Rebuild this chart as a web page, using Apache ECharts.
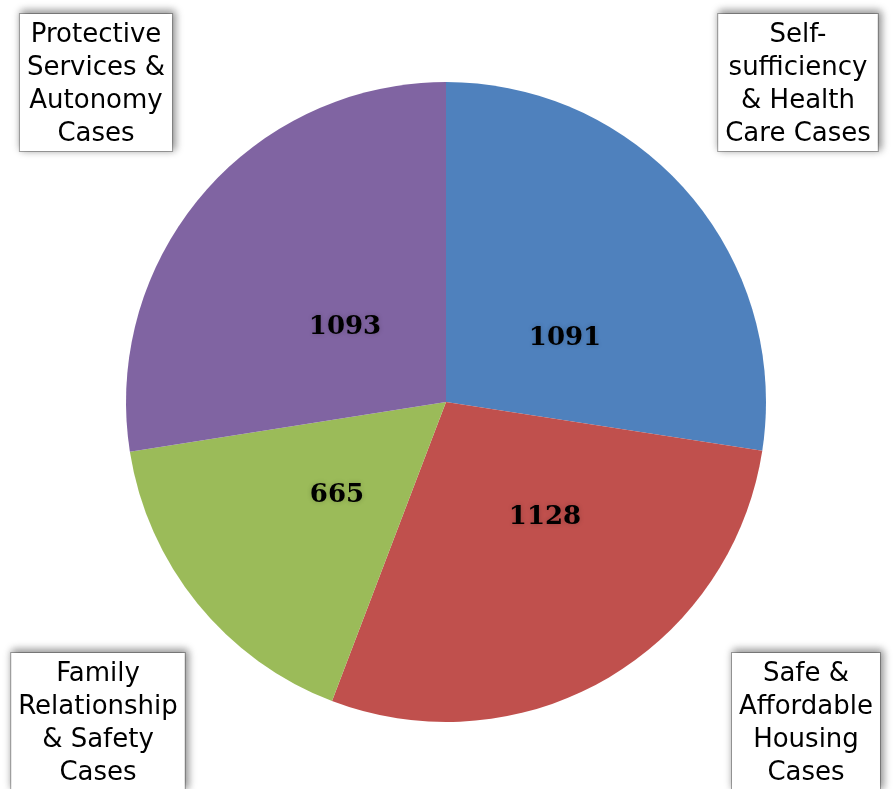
<!DOCTYPE html>
<html>
<head>
<meta charset="utf-8">
<script src="https://cdn.jsdelivr.net/npm/echarts@6/dist/echarts.min.js"></script>
<style>
  html, body { margin: 0; padding: 0; background: #fff; }
  #chart { width: 893px; height: 789px; }
</style>
</head>
<body>
<div id="chart"></div>
<script>
// slice names (clockwise from 12 o'clock) and case counts
var names = [
  "Self-\nsufficiency\n& Health\nCare Cases",
  "Safe &\nAffordable\nHousing\nCases",
  "Family\nRelationship\n& Safety\nCases",
  "Protective\nServices &\nAutonomy\nCases"
];
var values = [1091, 1128, 665, 1093];
var colors = ["#4f81bd", "#c0504d", "#9bbb59", "#8064a2"];

// where the boxed names sit (centre x, top y) and value labels
var boxPos = [[798, 14], [806, 653], [98, 653], [96, 14]];
var valuePos = [[565, 338], [545, 517], [337, 495], [345, 327]];

var pieData = values.map(function (v, i) {
  return { name: names[i], value: v, itemStyle: { color: colors[i] } };
});

var myChart = echarts.init(document.getElementById("chart"));
myChart.setOption({
  animation: false,
  series: [
    {
      type: "pie",
      center: [446, 402],
      radius: 320,
      startAngle: 90,
      clockwise: true,
      avoidLabelOverlap: false,
      itemStyle: { borderWidth: 0 },
      label: {
        position: "inside",
        formatter: "{c}",
        fontFamily: "DejaVu Serif",
        fontSize: 26,
        fontWeight: 600,
        color: "#000",
        textBorderWidth: 0,
        textShadowColor: "rgba(0,0,0,0.2)",
        textShadowBlur: 5
      },
      labelLayout: function (p) {
        var pos = valuePos[p.dataIndex];
        return { x: pos[0], y: pos[1], align: "center", verticalAlign: "middle" };
      },
      labelLine: { show: false },
      data: pieData
    },
    {
      type: "pie",
      center: [446, 402],
      radius: 320,
      startAngle: 90,
      clockwise: true,
      silent: true,
      avoidLabelOverlap: false,
      z: 5,
      itemStyle: { color: "transparent" },
      label: {
        position: "outside",
        formatter: "{b}",
        fontFamily: "DejaVu Sans",
        fontSize: 26,
        lineHeight: 33,
        color: "#000",
        backgroundColor: "#fff",
        borderColor: "#a6a6a6",
        borderWidth: 1,
        padding: [5, 7, 0, 7],
        shadowColor: "rgba(0,0,0,0.45)",
        shadowBlur: 8,
        shadowOffsetX: 2,
        shadowOffsetY: -2
      },
      labelLayout: function (p) {
        var pos = boxPos[p.dataIndex];
        return { x: pos[0], y: pos[1], align: "center", verticalAlign: "top" };
      },
      labelLine: { show: false },
      data: values.map(function (v, i) {
        return { name: names[i], value: v };
      })
    }
  ]
});
</script>
</body>
</html>
